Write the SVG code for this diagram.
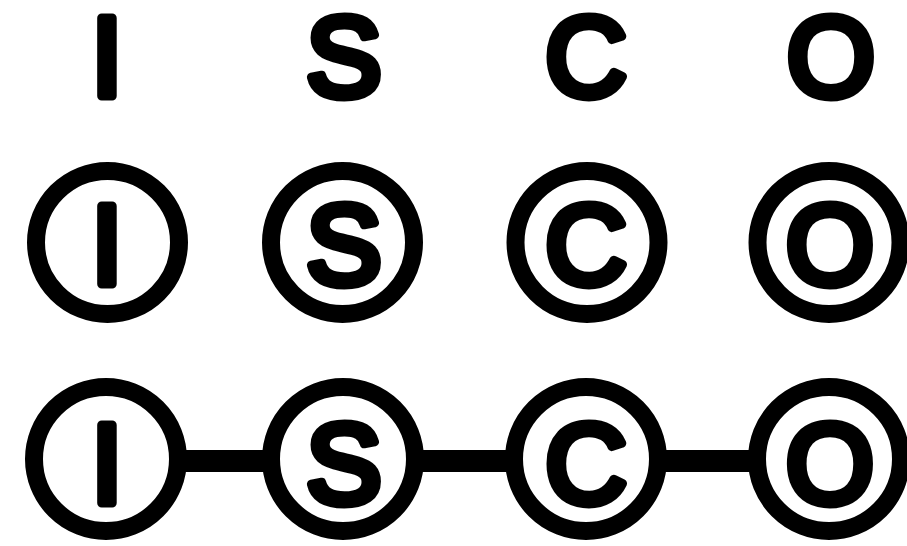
<svg xmlns="http://www.w3.org/2000/svg" width="907" height="546" viewBox="0 0 907 546">
<style>
.t{font-family:"Liberation Sans",Arial,sans-serif;font-size:113px;fill:#000;stroke:#000;stroke-width:9;stroke-linejoin:round;text-anchor:middle}
.ring{fill:#fff;stroke:#000;stroke-width:18}
.edge{stroke:#000;stroke-width:22;fill:none}
</style>
<rect width="907" height="546" fill="#fff"/>
<g id="row1">
<g id="letter-I"><text class="t" x="107" y="96">I</text></g>
<g id="letter-S"><text class="t" x="344" y="96">S</text></g>
<g id="letter-C"><text class="t" x="586" y="96">C</text></g>
<g id="letter-O"><text class="t" x="831" y="96">O</text></g>
</g>
<g id="row2">
<g id="circle-I"><circle class="ring" cx="107.5" cy="242.5" r="71.5"/><text class="t" x="107" y="283.5">I</text></g>
<g id="circle-S"><circle class="ring" cx="342.5" cy="242.5" r="71.5"/><text class="t" x="344" y="283.5">S</text></g>
<g id="circle-C"><circle class="ring" cx="587" cy="242.5" r="71.5"/><text class="t" x="586" y="283.5">C</text></g>
<g id="circle-O"><circle class="ring" cx="829" cy="242.5" r="71.5"/><text class="t" x="830" y="283.5">O</text></g>
</g>
<g id="connectors">
<line class="edge" x1="180" y1="461" x2="270" y2="461"/>
<line class="edge" x1="416" y1="461" x2="513" y2="461"/>
<line class="edge" x1="659" y1="461" x2="756" y2="461"/>
</g>
<g id="row3">
<g id="node-I"><circle class="ring" cx="106" cy="459" r="72"/><text class="t" x="107" y="502.5">I</text></g>
<g id="node-S"><circle class="ring" cx="343" cy="459" r="72"/><text class="t" x="344" y="502.5">S</text></g>
<g id="node-C"><circle class="ring" cx="586" cy="459" r="72"/><text class="t" x="586" y="502.5">C</text></g>
<g id="node-O"><circle class="ring" cx="829" cy="459" r="72"/><text class="t" x="830" y="502.5">O</text></g>
</g>
</svg>
